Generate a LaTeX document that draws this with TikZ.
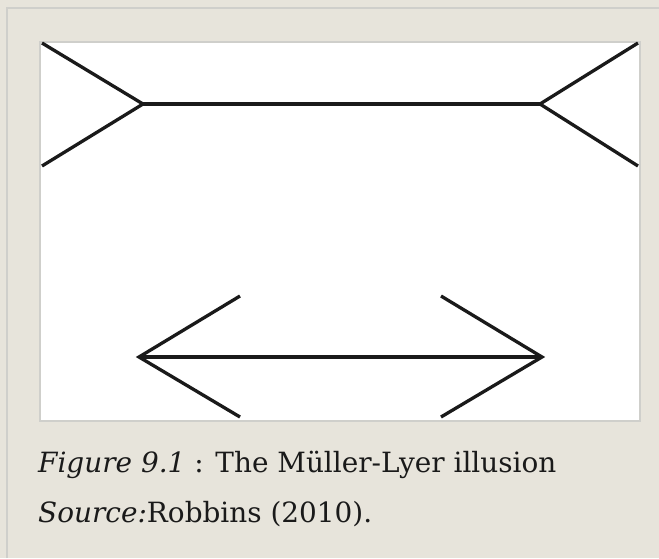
\documentclass[tikz,border=0pt]{standalone}
\usepackage{fontspec}
\setmainfont{DejaVu Serif}
\definecolor{beige}{HTML}{E7E4DB}
\definecolor{frameline}{HTML}{CFCFCB}
\definecolor{ink}{HTML}{1A1A1A}
\tikzset{
  fin/.style={draw=ink, line width=3.3pt, line join=miter, line cap=butt},
  caption/.style={anchor=base west, inner sep=0pt, font=\fontsize{27.9}{33}\selectfont, text=ink}
}
\begin{document}
\begin{tikzpicture}[x=1pt,y=-1pt]
\useasboundingbox (0,0) rectangle (659,558);
% background
\fill[beige] (0,0) rectangle (659,558);
\draw[frameline, line width=1.5pt] (7,558) -- (7,8) -- (659,8);
% white panel
\draw[frameline, fill=white, line width=1.2pt] (40,42) rectangle (640,421);
% top figure (fins out)
\coordinate (tl) at (143,104);
\coordinate (tr) at (540,104);
\draw[fin] (42,43) -- (tl) -- (42,166);
\draw[fin] (tl) -- (tr);
\draw[fin] (638,43) -- (tr) -- (638,166);
% bottom figure (fins in)
\coordinate (bl) at (139,357);
\coordinate (br) at (542,357);
\draw[fin] (240,296) -- (bl) -- (240,417);
\draw[fin] (bl) -- (br);
\draw[fin] (441,296) -- (br) -- (441,417);
% caption
\node[caption] (cap1) at (38,472) {\textit{Figure 9.1} : The Müller-Lyer illusion};
\node[caption] (cap2) at (38,522) {\textit{Source:}Robbins (2010).};
\end{tikzpicture}
\end{document}
